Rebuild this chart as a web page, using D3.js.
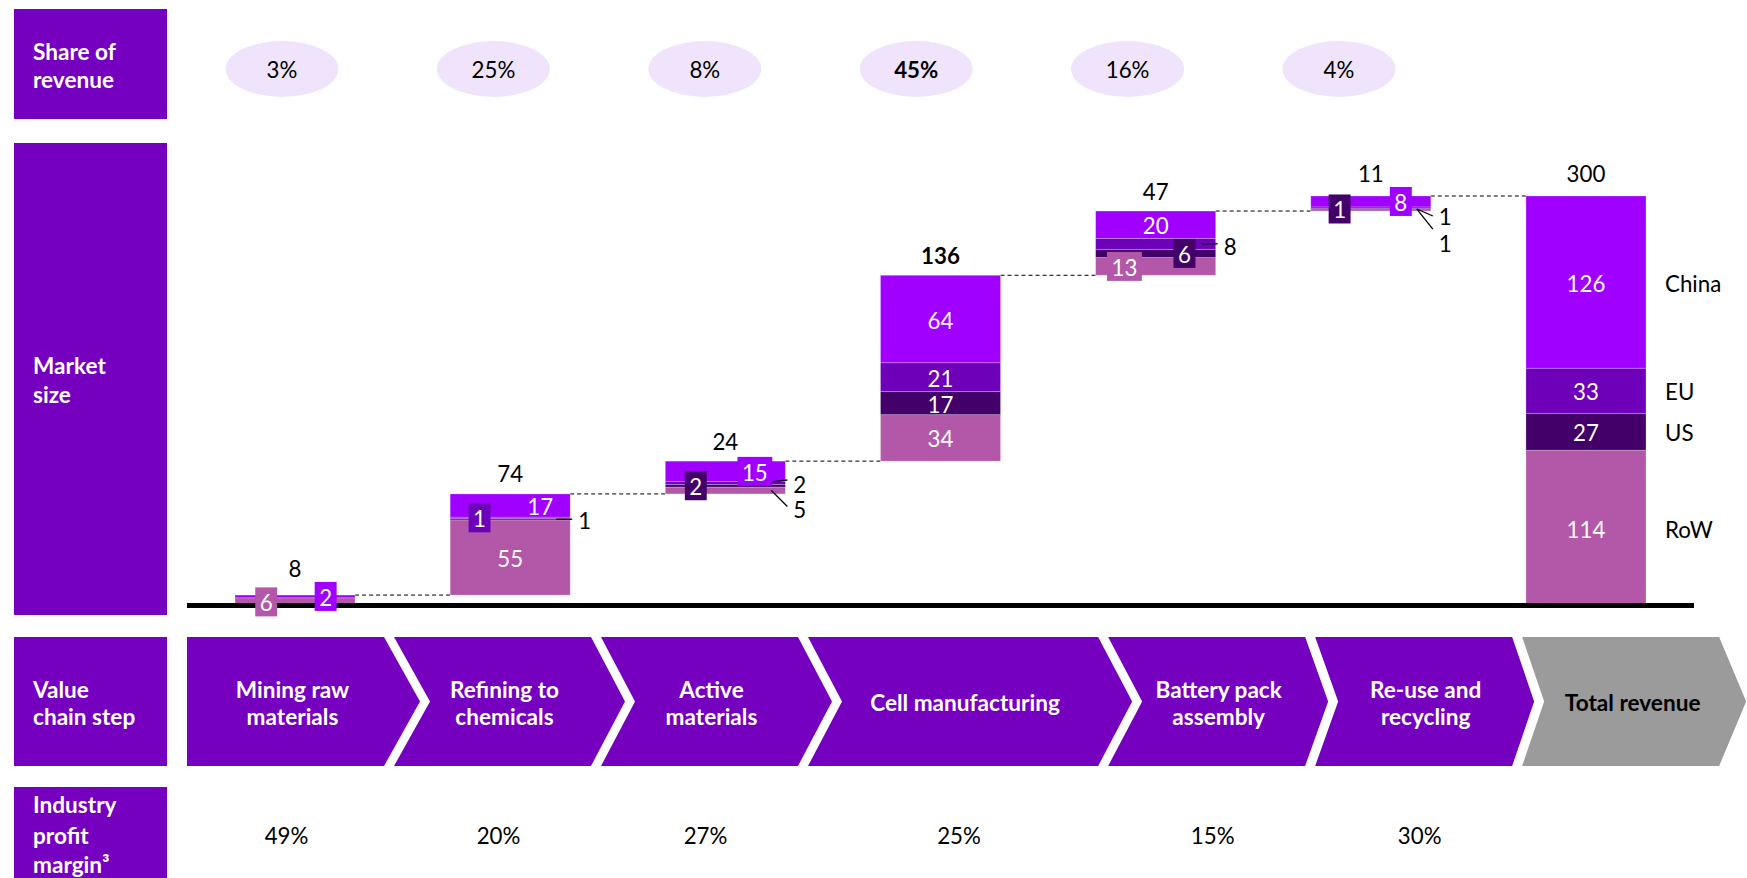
<!DOCTYPE html>
<html>
<head>
<meta charset="utf-8">
<script src="https://cdn.jsdelivr.net/npm/d3@7"></script>
<style>
  body { margin: 0; background: #fff; }
  svg { display: block; }
  text { font-family: Lato, "Open Sans", sans-serif; }
</style>
</head>
<body>
<svg id="chart" width="1747" height="878"></svg>
<script>
// ---- data -------------------------------------------------------------
const steps = ["Mining raw materials", "Refining to chemicals", "Active materials",
  "Cell manufacturing", "Battery pack assembly", "Re-use and recycling"];
const stepLines = [["Mining raw", "materials"], ["Refining to", "chemicals"], ["Active", "materials"],
  ["Cell manufacturing"], ["Battery pack", "assembly"], ["Re-use and", "recycling"]];
const totalStep = "Total revenue";
const regions = ["China", "EU", "US", "RoW"];          // top to bottom in each stack
const chinaValues = [2, 17, 15, 64, 20, 8];
const euValues    = [0, 1, 2, 21, 8, 1];
const usValues    = [0, 1, 2, 17, 6, 1];
const rowValues   = [6, 55, 5, 34, 13, 1];
const stepTotals  = [8, 74, 24, 136, 47, 11];
const totalValues = [126, 33, 27, 114];                 // China, EU, US, RoW
const grandTotal  = 300;
const revenueShare = ["3%", "25%", "8%", "45%", "16%", "4%"];
const profitMargin = ["49%", "20%", "27%", "25%", "15%", "30%"];
const highlightStep = "Cell manufacturing";

// ---- styles -----------------------------------------------------------
const FS = 22.3;
const FSB = 22.6;
const colors = { China: "#A000FF", EU: "#6E00B9", US: "#430068", RoW: "#B357A8" };
const panelColor = "#7600C0";
const greyChevron = "#9B9B9B";
const ellipseFill = "#F0E4FC";

// How the labels of thin segments are placed (inside box / leader line)
const labelLayout = {
  "0|RoW":   { mode: "box", fx: 0.26 },
  "0|China": { mode: "box", fx: 0.755 },
  "1|China": { mode: "text", fx: 0.75 },
  "1|EU":    { mode: "box", fx: 0.245 },
  "1|US":    { mode: "lead", y0: 0, ly: 0, ty: 0 },
  "2|China": { mode: "box", fx: 0.746 },
  "2|US":    { mode: "box", fx: 0.254 },
  "2|EU":    { mode: "lead", y0: -1, ly: -2, ty: 0 },
  "2|RoW":   { mode: "lead", y0: 0, ly: 16, ty: 18 },
  "4|EU":    { mode: "lead", y0: 0, ly: 0, ty: 2 },
  "4|US":    { mode: "box", fx: 0.74 },
  "4|RoW":   { mode: "box", fx: 0.24 },
  "5|China": { mode: "box", fx: 0.75 },
  "5|US":    { mode: "box", fx: 0.24 },
  "5|EU":    { mode: "lead", y0: 1.4, ly: 7, ty: 7.5 },
  "5|RoW":   { mode: "lead", y0: -1.3, ly: 20, ty: 32 }
};

const svg = d3.select("#chart");

// ---- scales -----------------------------------------------------------
const allSteps = steps.concat([totalStep]);
const x = d3.scaleBand().domain(allSteps).range([235, 1646]).paddingInner(0.442).paddingOuter(0);
const bw = x.bandwidth();
const y = d3.scaleLinear().domain([0, grandTotal]).range([606, 196]);
const ellipseX = d3.scaleLinear().domain([0, steps.length - 1]).range([282, 1339]);

// chevron layout: relative widths and point depths of each step
const chevWeights = [1, 1, 1, 1.45, 1, 1, 1];
const chevDepths = [36, 34, 34, 34, 23, 22, 27];
const chevUnit = 207, chevGap = 10, chevStart = 187;
const chevTop = 637, chevBottom = 766, chevMid = (chevTop + chevBottom) / 2;
let acc = 0;
const chevrons = allSteps.map((s, i) => {
  const left = chevStart + acc * chevUnit;
  const w = chevWeights[i] * chevUnit - chevGap;
  acc += chevWeights[i];
  return { step: s, i, left, w, depth: chevDepths[i],
           cx: left + (w + 36) / 2 - 6 - (i === 0 ? 5 : 0) };
});

// ---- left panel labels -----------------------------------------------
const panels = [
  { y0: 9, y1: 119, lines: ["Share of", "revenue"], ys: [51, 79] },
  { y0: 143, y1: 615, lines: ["Market", "size"], ys: [365, 394] },
  { y0: 637, y1: 766, lines: ["Value", "chain step"], ys: [689, 716] },
  { y0: 787, y1: 890, lines: ["Industry", "profit", "margin³"], ys: [804, 835, 864] }
];
panels.forEach(p => {
  svg.append("rect").attr("x", 14).attr("y", p.y0).attr("width", 153).attr("height", p.y1 - p.y0)
    .attr("fill", panelColor);
  p.lines.forEach((l, k) => {
    svg.append("text").attr("x", 33).attr("y", p.ys[k]).attr("dominant-baseline", "central")
      .attr("fill", "#fff").attr("font-weight", 700).attr("font-size", FSB).text(l);
  });
});

// ---- share of revenue ellipses ---------------------------------------
revenueShare.forEach((v, i) => {
  svg.append("ellipse").attr("cx", ellipseX(i)).attr("cy", 69).attr("rx", 56.5).attr("ry", 28)
    .attr("fill", ellipseFill);
  svg.append("text").attr("x", ellipseX(i)).attr("y", 69).attr("text-anchor", "middle")
    .attr("dominant-baseline", "central").attr("font-size", FS)
    .attr("font-weight", steps[i] === highlightStep ? 700 : 400).attr("fill", "#000").text(v);
});

// ---- value chain chevrons --------------------------------------------
chevrons.forEach(c => {
  const L = c.left, R = c.left + c.w;
  const pts = [[L, chevTop], [R, chevTop], [R + c.depth, chevMid], [R, chevBottom], [L, chevBottom]];
  if (c.i > 0) pts.push([L + chevrons[c.i - 1].depth, chevMid]);
  svg.append("path").attr("d", "M" + pts.map(p => p.join(",")).join("L") + "Z")
    .attr("fill", c.step === totalStep ? greyChevron : panelColor);
  const lines = c.step === totalStep ? [totalStep] : stepLines[c.i];
  const lh = 27;
  lines.forEach((l, k) => {
    svg.append("text").attr("x", c.cx)
      .attr("y", chevMid + (k - (lines.length - 1) / 2) * lh + 1)
      .attr("text-anchor", "middle").attr("dominant-baseline", "central")
      .attr("font-size", FSB).attr("font-weight", 700)
      .attr("fill", c.step === totalStep ? "#000" : "#fff").text(l);
  });
});

// ---- profit margins ----------------------------------------------------
profitMargin.forEach((v, i) => {
  svg.append("text").attr("x", chevrons[i].cx - 6).attr("y", 835).attr("text-anchor", "middle")
    .attr("dominant-baseline", "central").attr("font-size", FS).attr("fill", "#000").text(v);
});

// ---- waterfall stacks ---------------------------------------------------
const series = { China: chinaValues, EU: euValues, US: usValues, RoW: rowValues };
const stackOrder = ["RoW", "US", "EU", "China"];     // bottom to top
const segments = [];
const stepRange = [];
let cum = 0;
steps.forEach((s, i) => {
  let base = cum;
  stackOrder.forEach(r => {
    const v = series[r][i];
    if (v > 0) segments.push({ i, step: s, region: r, v, a: base, b: base + v });
    base += v;
  });
  stepRange.push({ a: cum, b: cum + stepTotals[i] });
  cum += stepTotals[i];
});
let tb = 0;
stackOrder.forEach(r => {
  const v = totalValues[regions.indexOf(r)];
  segments.push({ i: steps.length, step: totalStep, region: r, v, a: tb, b: tb + v });
  tb += v;
});
stepRange.push({ a: 0, b: grandTotal });

// dashed connectors between consecutive stacks
const conn = svg.append("g");
stepRange.slice(0, -1).forEach((r, i) => {
  conn.append("line")
    .attr("x1", x(allSteps[i]) + bw).attr("x2", x(allSteps[i + 1]))
    .attr("y1", y(r.b)).attr("y2", y(r.b))
    .attr("stroke", "#000").attr("stroke-width", 1).attr("stroke-dasharray", "4,3");
});

svg.append("g").selectAll("rect").data(segments).join("rect")
  .attr("x", d => x(d.step)).attr("width", bw)
  .attr("y", d => y(d.b)).attr("height", d => y(d.a) - y(d.b))
  .attr("fill", d => colors[d.region])
  .attr("stroke", "rgba(255,255,255,0.3)").attr("stroke-width", 0.8);

// baseline
svg.append("line").attr("x1", 187).attr("x2", 1694).attr("y1", 605.5).attr("y2", 605.5)
  .attr("stroke", "#000").attr("stroke-width", 5);

// ---- segment labels --------------------------------------------------------
const lab = svg.append("g");
const boxTops = {};
segments.forEach(d => {
  const key = d.i + "|" + d.region;
  const midY = (y(d.a) + y(d.b)) / 2;
  const left = x(d.step), right = left + bw;
  const cfg = labelLayout[key] || { mode: "text", fx: 0.5 };
  if (cfg.mode === "text") {
    lab.append("text").attr("x", left + cfg.fx * bw).attr("y", midY + 1)
      .attr("text-anchor", "middle").attr("dominant-baseline", "central")
      .attr("font-size", FS).attr("fill", "#fff").text(d.v);
  } else if (cfg.mode === "box") {
    const cx = left + cfg.fx * bw;
    const t = lab.append("text").attr("x", cx).attr("y", midY + 1)
      .attr("text-anchor", "middle").attr("dominant-baseline", "central")
      .attr("font-size", FS).attr("fill", "#fff").text(d.v);
    const tw = t.node().getComputedTextLength();
    const bwid = tw + 9, bh = 29;
    lab.insert("rect", function () { return t.node(); })
      .attr("x", cx - bwid / 2).attr("y", midY - bh / 2).attr("width", bwid).attr("height", bh)
      .attr("fill", colors[d.region]);
    boxTops[d.i] = Math.min(boxTops[d.i] ?? Infinity, midY - bh / 2);
  } else {
    const sy = midY + cfg.y0;
    lab.append("line").attr("x1", right - 14).attr("x2", right + 2)
      .attr("y1", sy).attr("y2", sy + cfg.ly).attr("stroke", "#000").attr("stroke-width", 1.3);
    lab.append("text").attr("x", right + 8).attr("y", midY + cfg.ty + 1)
      .attr("dominant-baseline", "central").attr("font-size", FS).attr("fill", "#000").text(d.v);
  }
});

// stack totals
const totalLabels = stepTotals.concat([grandTotal]);
totalLabels.forEach((v, i) => {
  const top = y(stepRange[i].b);
  const gap = allSteps[i] === totalStep ? 23 : 20;
  const ly = Math.min(top - gap, (boxTops[i] ?? Infinity) - 13);
  svg.append("text").attr("x", x(allSteps[i]) + bw / 2).attr("y", ly)
    .attr("text-anchor", "middle").attr("dominant-baseline", "central")
    .attr("font-size", FS).attr("font-weight", allSteps[i] === highlightStep ? 700 : 400)
    .attr("fill", "#000").text(v);
});

// region legend beside the total stack
segments.filter(d => d.step === totalStep).forEach(d => {
  svg.append("text").attr("x", x(totalStep) + bw + 19).attr("y", (y(d.a) + y(d.b)) / 2 + 1)
    .attr("dominant-baseline", "central").attr("font-size", FS).attr("fill", "#000").text(d.region);
});
</script>
</body>
</html>
